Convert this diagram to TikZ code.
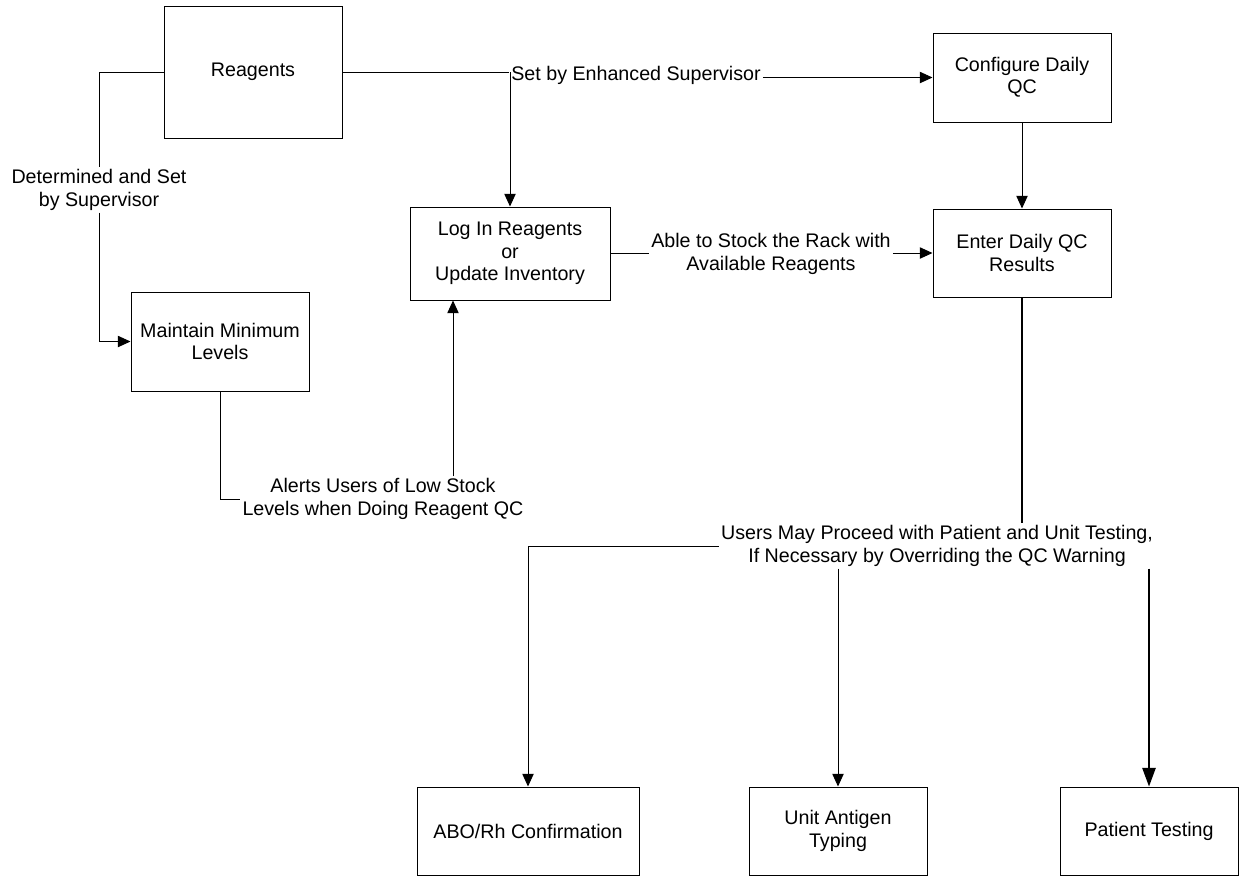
\documentclass[tikz,border=0pt]{standalone}
\usepackage{fontspec}
\setmainfont{Liberation Sans}
\usetikzlibrary{arrows.meta,calc}
\begin{document}
\begin{tikzpicture}[x=0.75pt,y=-0.75pt,
  txt/.style={font=\fontsize{14.75pt}{16.75pt}\selectfont, align=center},
  box/.style={txt, draw=black, line width=0.75pt, inner sep=0pt},
  lbl/.style={txt, inner sep=1.5pt},
  line/.style={line width=0.75pt},
  heavy/.style={line width=1.2pt},
  conn/.style={line width=0.75pt, -{Triangle[length=9.5pt,width=8.5pt]}},
  heavyconn/.style={line width=1.2pt, -{Triangle[length=14pt,width=10pt]}}]
\useasboundingbox (0,0) rectangle (1239,876);

% process boxes
\node[box, minimum width=133.5pt, minimum height=99pt]    (reag)    at (253,72)    {Reagents};
\node[box, minimum width=133.5pt, minimum height=66.75pt] (config)  at (1022,77.5) {Configure Daily\\QC};
\node[box, minimum width=150pt,   minimum height=69.75pt] (login)   at (510,253.5) {Log In Reagents\\or\\Update Inventory};
\node[box, minimum width=133.5pt, minimum height=66pt]    (enter)   at (1022,253)  {Enter Daily QC\\Results};
\node[box, minimum width=133.5pt, minimum height=74.25pt] (maint)   at (220,341.5) {Maintain Minimum\\Levels};
\node[box, minimum width=166.5pt, minimum height=66pt]    (abo)     at (528,831)   {ABO/Rh Confirmation};
\node[box, minimum width=133.5pt, minimum height=66pt]    (unit)    at (838,831)   {Unit Antigen\\Typing};
\node[box, minimum width=133.5pt, minimum height=66pt]    (patient) at (1149,831)  {Patient Testing};

% connector labels
\node[lbl] (lDet)   at (99,190)  {Determined and Set\\by Supervisor};
\node[lbl] (lSet)   at (636,75)  {Set by Enhanced Supervisor};
\node[lbl] (lAble)  at (771,254) {Able to Stock the Rack with\\Available Reagents};
\node[lbl] (lAlert) at (383,499) {Alerts Users of Low Stock\\Levels when Doing Reagent QC};
\node[lbl] (lUsers) at (937,546) {Users May Proceed with Patient and Unit Testing,\\If Necessary by Overriding the QC Warning};

% connectors
\draw[line] (reag.west) -| (lDet.north);
\draw[conn] (lDet.south) |- (maint.west);

\draw[line] (reag.east) -- (lSet.west |- reag.east);
\draw[conn] (reag.east -| login.north) -- (login.north);
\draw[conn] (lSet.east |- config.west) -- (config.west);

\draw[conn] (config.south) -- (enter.north);

\draw[line] (login.east) -- (lAble.west |- login.east);
\draw[conn] (lAble.east |- enter.west) -- (enter.west);

\coordinate (loginIn) at ($(login.south)+(-57,0)$);
\draw[line] (maint.south) |- (lAlert.west);
\draw[conn] (lAlert.north -| loginIn) -- (loginIn);

\draw[heavy] (enter.south) -- (enter.south |- lUsers.north);
\draw[conn] (lUsers.west) -| (abo.north);
\draw[conn] (lUsers.south -| unit.north) -- (unit.north);
\draw[heavyconn] (lUsers.south -| patient.north) -- (patient.north);
\end{tikzpicture}
\end{document}
